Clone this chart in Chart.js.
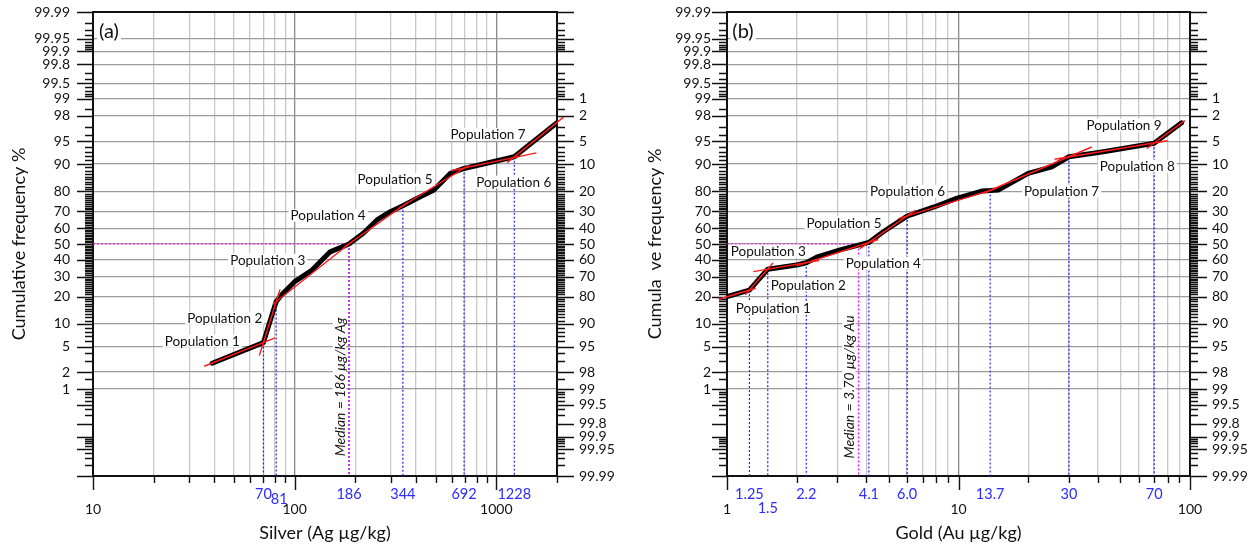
<!DOCTYPE html>
<html>
<head>
<meta charset="utf-8">
<script src="https://cdn.jsdelivr.net/npm/chart.js@4.4.1/dist/chart.umd.min.js"></script>
<style>
  body { margin: 0; background: #fff; width: 1255px; height: 547px; overflow: hidden; position: relative; }
  .panel { position: absolute; top: 0; height: 547px; }
</style>
</head>
<body>
<div class="panel" style="left:0;width:627px"><canvas id="chartAg"></canvas></div>
<div class="panel" style="left:627px;width:628px"><canvas id="chartAu"></canvas></div>
<script>
// ---- (a) silver ----
const agConc = [39, 70, 81, 86, 100, 122, 150, 186, 219, 256, 298, 344, 420, 489, 591, 692, 1228, 2000];
const agCum  = [2.8, 5.7, 17.8, 20.7, 27.3, 33.8, 45, 50, 56.8, 65, 69.8, 73, 77.6, 80.6, 87.1, 88.7, 91.9, 97.4];
// straight population fits, [start, end]
const agFitConc = [[35.6, 79.9], [66.8, 84.6], [78, 195], [175, 365], [325, 730], [596, 1580], [1132, 2155]];
const agFitCum  = [[2.5, 6.6], [3.7, 23.3], [16.7, 52.1], [47.6, 74.9], [71.4, 89.6], [88.0, 92.8], [90.4, 97.9]];
const agBreaks = [70, 81, 186, 344, 692, 1228];
const agBreakText = ['70', '81', '186', '344', '692', '1228'];
const agMedian = 186;
const agPopAt = [[34.8, 6.1], [45, 11.9], [73.5, 40], [146.5, 67.9], [315, 85.1], [1220, 84.1], [911, 96.1]];
const agGridX = [10, 20, 30, 40, 50, 60, 70, 80, 90, 100, 200, 300, 400, 500, 600, 700, 800, 900, 1000, 2000];
const agXLabels = [10, 100, 1000];

// ---- (b) gold ----
const auConc = [1, 1.25, 1.5, 2.0, 2.2, 2.44, 3.08, 4.1, 4.73, 6.0, 7.9, 9.8, 12.6, 13.7, 14.9, 20, 25.3, 30, 41.6, 70, 92];
const auCum  = [19.9, 23, 34.3, 36.8, 38.2, 41.6, 46.2, 51, 57.8, 67.3, 72.5, 76.8, 80.2, 80.4, 80.7, 87.1, 89.2, 91.9, 93, 94.7, 97.4];
const auFitConc = [[0.92, 1.33], [1.2, 1.58], [1.3, 2.5], [2.0, 4.5], [3.75, 6.5], [5.5, 14.6], [12.8, 37.6], [26, 80], [65, 95]];
const auFitCum  = [[18.8, 23.9], [20.8, 38], [32.9, 39.6], [36.3, 52.9], [47, 70.5], [65.8, 81.4], [79.2, 94], [91.3, 95.1], [93.7, 97.6]];
const auBreaks = [1.25, 1.5, 2.2, 4.1, 6.0, 13.7, 30, 70];
const auBreakText = ['1.25', '1.5', '2.2', '4.1', '6.0', '13.7', '30', '70'];
const auMedian = 3.70;
const auPopAt = [[1.585, 15.4], [2.245, 25.6], [1.508, 45.7], [4.73, 38.2], [3.2, 63.6], [6.03, 80.3], [27.9, 80.3], [59.2, 89.5], [51.9, 97.2]];
const auGridX = [1, 2, 3, 4, 5, 6, 7, 8, 9, 10, 20, 30, 40, 50, 60, 70, 80, 90, 100];
const auXLabels = [1, 10, 100];

// probability axis (percent)
const leftPct  = [99.99, 99.95, 99.9, 99.8, 99.5, 99, 98, 95, 90, 80, 70, 60, 50, 40, 30, 20, 10, 5, 2, 1];
const rightPct = [1, 2, 5, 10, 20, 30, 40, 50, 60, 70, 80, 90, 95, 98, 99, 99.5, 99.8, 99.9, 99.95, 99.99];
const minorUpper = [99.98, 99.97, 99.96, 99.94, 99.93, 99.92, 99.91, 99.7, 99.6, 99.4, 99.3, 99.2, 99.1, 98.5, 97, 96, 94, 93, 92, 91];

// inverse normal CDF (Acklam)
function probit(p) {
  const a = [-3.969683028665376e+01, 2.209460984245205e+02, -2.759285104469687e+02, 1.383577518672690e+02, -3.066479806614716e+01, 2.506628277459239e+00];
  const b = [-5.447609879822406e+01, 1.615858368580409e+02, -1.556989798598866e+02, 6.680131188771972e+01, -1.328068155288572e+01];
  const c = [-7.784894002430293e-03, -3.223964580411365e-01, -2.400758277161838e+00, -2.549732539343734e+00, 4.374664141464968e+00, 2.938163982698783e+00];
  const d = [7.784695709041462e-03, 3.224671290700398e-01, 2.445134137142996e+00, 3.754408661907416e+00];
  const pl = 0.02425;
  let q, r;
  if (p < pl) {
    q = Math.sqrt(-2 * Math.log(p));
    return (((((c[0]*q+c[1])*q+c[2])*q+c[3])*q+c[4])*q+c[5]) / ((((d[0]*q+d[1])*q+d[2])*q+d[3])*q+1);
  }
  if (p > 1 - pl) {
    q = Math.sqrt(-2 * Math.log(1 - p));
    return -(((((c[0]*q+c[1])*q+c[2])*q+c[3])*q+c[4])*q+c[5]) / ((((d[0]*q+d[1])*q+d[2])*q+d[3])*q+1);
  }
  q = p - 0.5; r = q * q;
  return (((((a[0]*r+a[1])*r+a[2])*r+a[3])*r+a[4])*r+a[5])*q / (((((b[0]*r+b[1])*r+b[2])*r+b[3])*r+b[4])*r+1);
}
const z = pct => probit(pct / 100);
const Z_MIN = z(0.01), Z_MAX = z(99.99);

const yMajorPct = leftPct.concat([0.5, 0.2, 0.1, 0.05, 0.01]);
const yMinorPct = [];
minorUpper.forEach(p => { yMinorPct.push(p, +(100 - p).toFixed(2)); });
for (let p = 11; p < 90; p++) if (p % 10) yMinorPct.push(p);

const isDecade = v => Math.abs(Math.log10(v) - Math.round(Math.log10(v))) < 1e-9;

Chart.defaults.font.family = 'Lato, "Open Sans", sans-serif';
Chart.defaults.color = '#111';

function boxedText(ctx, text, x, y, size, opts = {}) {
  ctx.save();
  ctx.translate(x, y);
  if (opts.rot) ctx.rotate(opts.rot);
  ctx.font = (opts.italic ? 'italic ' : '') + size + 'px Lato, "Open Sans", sans-serif';
  const w = ctx.measureText(text).width;
  if (opts.box !== false) {
    ctx.fillStyle = '#fff';
    ctx.fillRect(-w / 2 - 2, -size * 0.45, w + 4, size * 0.95);
  }
  ctx.fillStyle = opts.color || '#111';
  ctx.textAlign = 'center';
  ctx.textBaseline = 'middle';
  ctx.fillText(text, 0, 1);
  ctx.restore();
}

const probFrame = {
  id: 'probFrame',
  beforeDatasetsDraw(chart, args, o) {
    const { ctx, chartArea: a, scales: { x, y } } = chart;
    ctx.save();
    ctx.strokeStyle = '#111';
    ctx.lineWidth = 1.4;
    ctx.beginPath();
    const yTick = (p, lenL, lenR) => {
      const py = Math.round(y.getPixelForValue(z(p))) + 0.5;
      ctx.moveTo(a.left - lenL, py); ctx.lineTo(a.left, py);
      ctx.moveTo(a.right, py); ctx.lineTo(a.right + lenR, py);
    };
    yMajorPct.forEach(p => yTick(p, o.leftTick, 17));
    yMinorPct.forEach(p => yTick(p, 8, 8));
    o.gridX.forEach(v => {
      const px = Math.round(x.getPixelForValue(v)) + 0.5;
      ctx.moveTo(px, a.bottom); ctx.lineTo(px, a.bottom + (isDecade(v) ? 14 : 7));
    });
    ctx.stroke();
    ctx.lineWidth = 2;
    ctx.strokeRect(a.left, a.top, a.width, a.height);
    ctx.restore();
  },
  afterDatasetsDraw(chart, args, o) {
    const { ctx, chartArea: a, scales: { x, y } } = chart;
    // breakpoint values under the axis
    o.breaks.forEach((v, i) => {
      const [dx, dy] = o.nudge[i] || [0, 0];
      boxedText(ctx, o.breakText[i], x.getPixelForValue(v) + dx, a.bottom + 17 + dy, 14.5, { box: false, color: '#2b2bff' });
    });
    o.popAt.forEach((pt, i) => {
      boxedText(ctx, 'Population ' + (i + 1), x.getPixelForValue(pt[0]), y.getPixelForValue(z(pt[1])), 13.5);
    });
    boxedText(ctx, o.medianText, x.getPixelForValue(o.median) - 10, y.getPixelForValue(z(1.1)), 14,
      { italic: true, rot: -Math.PI / 2 });
    boxedText(ctx, o.tag, a.left + 16, a.top + 19, 20);
  }
};

// invisible tick marks are used as the gap between axis line and labels,
// ticks.padding would also pad the plot area
const gap = len => ({ drawTicks: true, tickLength: len, tickColor: 'rgba(0,0,0,0)' });

function makeProbChart(id, cfg) {
  const fits = cfg.fitConc.map((pair, i) => ({
    data: pair.map((c, j) => ({ x: c, y: z(cfg.fitCum[i][j]) })),
    borderColor: '#ff1a1a', borderWidth: 1.4, pointRadius: 0, clip: 12, order: 0
  }));
  const curve = {
    data: cfg.conc.map((c, i) => ({ x: c, y: z(cfg.cum[i]) })),
    borderColor: '#000', borderWidth: 5, borderJoinStyle: 'round', borderCapStyle: 'round',
    pointRadius: 0, order: 1
  };
  const guidePts = [];
  cfg.breaks.forEach(b => {
    const k = cfg.conc.indexOf(b);
    guidePts.push({ x: b, y: z(cfg.cum[k]) }, { x: b, y: Z_MIN }, { x: b, y: null });
  });
  const guides = {
    data: guidePts, borderColor: '#1f1fff', borderWidth: 1.2, borderDash: [2, 2],
    pointRadius: 0, spanGaps: false, order: 3
  };
  const median = {
    data: [{ x: cfg.xMin, y: z(50) }, { x: cfg.median, y: z(50) }, { x: cfg.median, y: Z_MIN }],
    borderColor: '#ff00ff', borderWidth: 1.2, borderDash: [2, 2], pointRadius: 0, order: 2
  };

  return new Chart(document.getElementById(id), {
    type: 'line',
    data: { datasets: [...fits, curve, median, guides] },
    plugins: [probFrame],
    options: {
      responsive: true,
      maintainAspectRatio: false,
      devicePixelRatio: 1,
      animation: false,
      layout: { padding: { top: 12, left: 0, right: 0, bottom: 0 } },
      plugins: {
        legend: { display: false },
        tooltip: { enabled: false },
        probFrame: {
          tag: cfg.tag, leftTick: cfg.leftTick, gridX: cfg.gridX,
          breaks: cfg.breaks, breakText: cfg.breakText, nudge: cfg.nudge,
          popAt: cfg.popAt, median: cfg.median, medianText: cfg.medianText
        }
      },
      scales: {
        x: {
          type: 'logarithmic', position: 'bottom', min: cfg.xMin, max: cfg.xMax,
          afterBuildTicks: s => { s.ticks = cfg.gridX.map(v => ({ value: v })); },
          afterFit: s => { s.height = 71; },
          ticks: {
            autoSkip: false, maxRotation: 0, padding: 0, font: { size: 14 },
            callback: v => cfg.xLabels.includes(v) ? String(v) : ''
          },
          grid: Object.assign(gap(25), {
            color: c => (c.tick && isDecade(c.tick.value)) ? '#8a8a8a' : '#c9c9c9',
            lineWidth: 1.3
          }),
          border: { display: false },
          title: { display: true, text: cfg.xTitle, font: { size: 18 }, padding: { top: 0, bottom: 3 } }
        },
        y: {
          type: 'linear', position: 'left', min: Z_MIN, max: Z_MAX, bounds: 'data',
          afterBuildTicks: s => { s.ticks = leftPct.map(p => ({ value: z(p) })); },
          afterFit: s => { s.width = cfg.yWidth; },
          ticks: { autoSkip: false, padding: 0, font: { size: 14 }, callback: (v, i) => String(leftPct[i]) },
          grid: Object.assign(gap(cfg.yPad), { color: '#9c9c9c', lineWidth: 1.3 }),
          border: { display: false },
          title: { display: true, text: cfg.yTitle, font: { size: 18 }, padding: { top: cfg.yTitlePad, bottom: 0 } }
        },
        y2: {
          type: 'linear', position: 'right', min: Z_MIN, max: Z_MAX, bounds: 'data',
          afterBuildTicks: s => { s.ticks = rightPct.map(r => ({ value: z(100 - r) })); },
          afterFit: s => { s.width = cfg.y2Width; },
          ticks: { autoSkip: false, padding: 0, font: { size: 14 }, callback: (v, i) => String(rightPct[i]) },
          grid: Object.assign(gap(22), { drawOnChartArea: false }),
          border: { display: false }
        }
      }
    }
  });
}

makeProbChart('chartAg', {
  tag: '(a)', conc: agConc, cum: agCum, fitConc: agFitConc, fitCum: agFitCum,
  breaks: agBreaks, breakText: agBreakText, nudge: [[0, 0], [3, 5]],
  median: agMedian, medianText: 'Median = 186 µg/kg Ag', popAt: agPopAt,
  xMin: 10, xMax: 2000, gridX: agGridX, xLabels: agXLabels,
  xTitle: 'Silver (Ag µg/kg)', yTitle: 'Cumulative frequency %',
  yWidth: 93, yPad: 23, yTitlePad: 8, y2Width: 70, leftTick: 16
});

makeProbChart('chartAu', {
  tag: '(b)', conc: auConc, cum: auCum, fitConc: auFitConc, fitCum: auFitCum,
  breaks: auBreaks, breakText: auBreakText, nudge: [[0, 0], [0, 14]],
  median: auMedian, medianText: 'Median = 3.70 µg/kg Au', popAt: auPopAt,
  xMin: 1, xMax: 100, gridX: auGridX, xLabels: auXLabels,
  xTitle: 'Gold (Au µg/kg)', yTitle: 'Cumula\u2002ve frequency %',
  yWidth: 100, yPad: 16, yTitlePad: 17, y2Width: 65, leftTick: 15
});
</script>
</body>
</html>
